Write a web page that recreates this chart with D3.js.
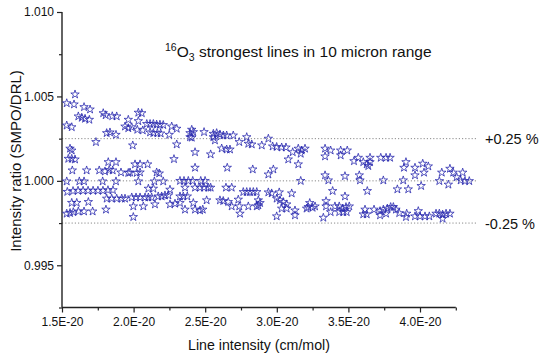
<!DOCTYPE html>
<html>
<head>
<meta charset="utf-8">
<script src="https://cdn.jsdelivr.net/npm/d3@7"></script>
<style>
  body { margin: 0; background: #fff; }
  svg text { font-family: 'Liberation Sans', Arial, sans-serif; fill: #111; }
</style>
</head>
<body>
<div id="chart"></div>
<script>
// line intensity in units of 1E-20 cm/mol, intensity ratio SMPO/DRL
const upperBand = [
  [1.591, 1.00512], [1.533, 1.0046], [1.584, 1.00453], [1.654, 1.00437], [1.696, 1.00423],
  [1.614, 1.00382], [1.638, 1.00374], [1.661, 1.00368], [1.691, 1.00362],
  [1.788, 1.00401], [1.805, 1.00389], [1.851, 1.00383], [1.882, 1.00382],
  [1.533, 1.00328], [1.568, 1.00318],
  [1.963, 1.00362], [2.033, 1.00404], [2.057, 1.00401], [2.033, 1.00354],
  [1.94, 1.00322], [1.963, 1.00312], [1.987, 1.00318], [2.026, 1.00303], [2.064, 1.00299],
  [2.092, 1.00337], [2.115, 1.00337], [2.138, 1.00337], [2.161, 1.00333], [2.184, 1.00333], [2.207, 1.00331],
  [2.115, 1.00287], [2.138, 1.00283], [2.166, 1.00283], [2.189, 1.00281],
  [2.266, 1.00322], [2.301, 1.00309],
  [1.812, 1.00283], [1.835, 1.00287], [1.877, 1.00273], [2.249, 1.00273],
  [1.737, 1.0023], [1.994, 1.0021], [2.301, 1.00216],
  [1.556, 1.00191], [1.568, 1.0018],
  [2.406, 1.00303], [2.394, 1.00283], [2.417, 1.00289], [2.394, 1.00259], [2.406, 1.00256],
  [2.492, 1.00289],
  [2.557, 1.00279], [2.58, 1.00283], [2.603, 1.00275], [2.627, 1.00269], [2.65, 1.00269], [2.696, 1.00269],
  [2.557, 1.00259], [2.568, 1.0024],
  [2.79, 1.00259], [2.738, 1.0023], [2.801, 1.0022], [2.825, 1.00216],
  [2.941, 1.0025], [2.895, 1.0021],
  [2.971, 1.00204], [2.999, 1.00201], [3.034, 1.00198], [3.064, 1.00198],
  [2.615, 1.00192], [2.65, 1.00186], [2.673, 1.00186],
  [3.111, 1.0017], [3.15, 1.00191], [3.173, 1.0018], [3.197, 1.00191], [3.167, 1.00161],
  [2.429, 1.0017], [2.538, 1.00157],
  [3.337, 1.00191], [3.376, 1.0018], [3.337, 1.00145], [3.446, 1.0018], [3.492, 1.0018], [3.446, 1.00151]
]

const middleBand = [
  [1.544, 1.00131], [1.568, 1.00131], [1.591, 1.00127],
  [1.823, 1.00111], [1.877, 1.00111],
  [2.01, 1.00098], [2.045, 1.00098], [2.098, 1.00098], [2.282, 1.00129],
  [1.572, 1.00062], [1.672, 1.00062], [1.76, 1.00062], [1.8, 1.00056], [1.83, 1.00065], [1.854, 1.00062],
  [1.912, 1.0005], [1.963, 1.00047], [1.975, 1.0005], [2.022, 1.00047], [2.045, 1.0005],
  [2.161, 1.0005], [2.179, 1.00044],
  [1.533, 0.99997], [1.621, 0.99997], [1.654, 0.99997], [1.784, 0.99997], [1.877, 0.99997],
  [2.033, 0.99997], [2.145, 0.99997], [2.207, 0.99997],
  [1.537, 0.99935], [1.577, 0.9994], [1.612, 0.99942], [1.647, 0.99942], [1.682, 0.99942],
  [1.717, 0.99942], [1.751, 0.99942], [1.786, 0.99942], [1.821, 0.99945], [1.856, 0.99945],
  [2.103, 0.99954], [2.138, 0.99954], [2.254, 0.99948],
  [3.08, 1.00127], [3.15, 1.00098], [2.429, 1.00078], [2.654, 1.00078], [2.832, 1.00068],
  [2.976, 1.00068], [2.941, 1.00038],
  [2.324, 1.0], [2.352, 1.0], [2.382, 1.0], [2.413, 1.0], [2.469, 1.0], [2.499, 1.0], [3.167, 1.0],
  [2.359, 0.9996], [2.429, 0.9996], [2.464, 0.9996], [2.492, 0.9996], [2.522, 0.9996],
  [2.538, 0.9996], [2.645, 0.9996], [2.685, 0.9996],
  [2.766, 0.99934], [2.79, 0.99934], [2.813, 0.99934], [2.836, 0.99934], [2.86, 0.99934],
  [2.941, 0.99932], [2.964, 0.99926], [3.017, 0.99932], [3.104, 0.99926],
  [3.539, 1.00117], [3.569, 1.00137], [3.604, 1.00111], [3.628, 1.00098], [3.651, 1.00111],
  [3.651, 1.00137], [3.639, 1.00088],
  [3.726, 1.00137], [3.763, 1.00137], [3.791, 1.00137],
  [3.902, 1.00111], [3.888, 1.00078], [3.965, 1.00078],
  [3.337, 1.00033], [3.36, 1.00003], [3.476, 1.00028], [3.576, 1.00033], [3.581, 1.00003],
  [3.744, 1.00003], [3.883, 1.00003],
  [3.39, 0.9994], [3.632, 0.9994], [3.842, 0.9995], [3.918, 0.9995], [4.008, 0.9997],
  [4.019, 1.00102], [4.058, 1.00086], [3.965, 1.00033], [4.028, 1.00049], [4.152, 1.00049],
  [4.209, 1.00072], [4.232, 1.00049], [4.256, 1.00022], [4.298, 1.00049], [4.284, 1.00003],
  [4.314, 0.99999], [4.344, 0.99999], [4.135, 0.99999], [4.198, 0.99978]
]

const lowerBand = [
  [1.812, 0.99895], [1.847, 0.99895], [1.882, 0.99895], [1.917, 0.99895], [1.94, 0.99895],
  [1.987, 0.99902], [2.017, 0.99902], [2.045, 0.99902], [2.08, 0.99902], [2.103, 0.99902],
  [2.126, 0.99902], [2.172, 0.99908], [2.196, 0.99908], [2.219, 0.99914], [2.243, 0.99914],
  [2.324, 0.99908], [2.347, 0.99908], [2.375, 0.99908],
  [1.568, 0.9987], [1.603, 0.9987], [1.684, 0.99875],
  [1.998, 0.99849], [2.068, 0.99849], [2.149, 0.99861], [2.254, 0.99861], [2.289, 0.99865], [2.324, 0.99869],
  [1.533, 0.99806], [1.556, 0.9981], [1.579, 0.99815], [1.614, 0.99819], [1.654, 0.99819], [1.714, 0.99819],
  [1.807, 0.9983], [1.998, 0.99786],
  [2.417, 0.99869], [2.51, 0.99885], [2.603, 0.99885], [2.626, 0.99881], [2.661, 0.99875],
  [2.731, 0.99889], [2.871, 0.99885], [2.883, 0.99869],
  [2.999, 0.99895], [3.022, 0.99885], [3.045, 0.99875], [3.069, 0.99861],
  [2.359, 0.9983], [2.429, 0.9983], [2.483, 0.9983], [2.464, 0.99825],
  [2.685, 0.99849], [2.738, 0.99849], [2.801, 0.99849], [2.86, 0.99849], [2.871, 0.99855],
  [2.743, 0.99806], [2.999, 0.9979], [3.034, 0.99836], [3.069, 0.99836], [3.127, 0.99825], [3.127, 0.99796],
  [3.476, 0.99908],
  [3.23, 0.99869], [3.219, 0.99845], [3.25, 0.99841], [3.267, 0.99849], [3.208, 0.99836],
  [3.344, 0.9988], [3.344, 0.99849], [3.376, 0.99815], [3.325, 0.99782],
  [3.406, 0.99849], [3.436, 0.99849], [3.46, 0.99836], [3.483, 0.99845], [3.506, 0.99849],
  [3.436, 0.99815], [3.464, 0.99815], [3.488, 0.99815],
  [3.616, 0.9983], [3.604, 0.99802], [3.628, 0.99802],
  [3.679, 0.9983], [3.721, 0.99821], [3.744, 0.9983], [3.772, 0.99836], [3.795, 0.99845],
  [3.814, 0.99845], [3.832, 0.9983], [3.855, 0.99809],
  [3.721, 0.99796], [3.763, 0.99806], [3.907, 0.99806], [3.902, 0.99786], [3.988, 0.99821],
  [3.965, 0.9979], [4.0, 0.9979], [4.035, 0.9979], [4.065, 0.9979],
  [4.112, 0.99806], [4.135, 0.99806], [4.158, 0.998], [4.182, 0.99806], [4.209, 0.99806], [4.158, 0.99776]
]

const xTicks = [1.5, 2.0, 2.5, 3.0, 3.5, 4.0]
const xMinorTicks = [1.75, 2.25, 2.75, 3.25, 3.75, 4.25]
const yTicks = [0.995, 1.0, 1.005, 1.01]
const yMinorTicks = [0.9925, 0.9975, 1.0025, 1.0075]
const refLines = [
  { value: 1.0025, label: '+0.25 %' },
  { value: 1.0, label: null },
  { value: 0.9975, label: '-0.25 %' }
]

const width = 550
const height = 362

const svg = d3.select('#chart')
  .append('svg')
  .attr('width', width)
  .attr('height', height)

const x = d3.scaleLinear().domain([1.5, 4.25]).range([62, 455.8])
const y = d3.scaleLinear().domain([0.9925, 1.01]).range([307.5, 12])

// reference lines
const refG = svg.append('g')
refG.selectAll('line')
  .data(refLines)
  .enter()
  .append('line')
  .attr('x1', x(1.5))
  .attr('x2', 478)
  .attr('y1', (d) => y(d.value))
  .attr('y2', (d) => y(d.value))
  .attr('stroke', '#8a8a8a')
  .attr('stroke-width', 1)
  .attr('stroke-dasharray', '1.2,2')
refG.selectAll('text')
  .data(refLines.filter((d) => d.label))
  .enter()
  .append('text')
  .attr('x', 485)
  .attr('y', (d) => y(d.value) + 5.5)
  .attr('font-size', 14.5)
  .text((d) => d.label)

// axes
const axisColor = '#222'
const xAxis = svg.append('g')
  .attr('transform', `translate(0,${y(0.9925)})`)
  .call(d3.axisBottom(x).tickValues(xTicks).tickSize(5).tickPadding(5).tickFormat((d) => d.toFixed(1) + 'E-20'))
const xMinor = svg.append('g')
  .attr('transform', `translate(0,${y(0.9925)})`)
  .call(d3.axisBottom(x).tickValues(xMinorTicks).tickSize(3).tickFormat(''))
const yAxis = svg.append('g')
  .attr('transform', `translate(${x(1.5)},0)`)
  .call(d3.axisLeft(y).tickValues(yTicks).tickSize(5).tickPadding(3).tickFormat(d3.format('.3f')))
const yMinor = svg.append('g')
  .attr('transform', `translate(${x(1.5)},0)`)
  .call(d3.axisLeft(y).tickValues(yMinorTicks).tickSize(3).tickFormat(''))

;[xAxis, xMinor, yAxis, yMinor].forEach((g) => {
  g.select('.domain').attr('stroke', axisColor).attr('stroke-width', 1.4)
  g.selectAll('.tick line').attr('stroke', axisColor).attr('stroke-width', 1.2)
  g.selectAll('.tick text')
    .attr('font-family', "'Liberation Sans', Arial, sans-serif")
    .attr('font-size', 12)
    .attr('fill', '#111')
})
// x axis line stops at the last minor tick, y axis without end caps
xAxis.select('.domain').attr('d', `M${x(1.5)},0H${x(4.25)}`)
xMinor.select('.domain').remove()
yAxis.select('.domain').attr('d', `M0,${y(1.01)}V${y(0.9925)}`)
yMinor.select('.domain').remove()

// axis titles
svg.append('text')
  .attr('x', 259)
  .attr('y', 350)
  .attr('text-anchor', 'middle')
  .attr('font-size', 14.2)
  .text('Line intensity (cm/mol)')
svg.append('text')
  .attr('transform', 'translate(21,161) rotate(-90)')
  .attr('text-anchor', 'middle')
  .attr('font-size', 15)
  .text('Intensity ratio (SMPO/DRL)')

// chart title with isotope superscript and subscript
const title = svg.append('text')
  .attr('x', 165)
  .attr('y', 57)
  .attr('font-size', 15.5)
title.append('tspan').attr('dy', -6.5).attr('font-size', 10.5).text('16')
title.append('tspan').attr('dy', 6.5).text('O')
title.append('tspan').attr('dy', 4).attr('font-size', 10.5).text('3')
title.append('tspan').attr('dy', -4).text(' strongest lines in 10 micron range')

// star markers
const star = d3.symbol().type(d3.symbolStar).size(22)
svg.append('g')
  .selectAll('path')
  .data([...upperBand, ...middleBand, ...lowerBand])
  .enter()
  .append('path')
  .attr('transform', (d) => `translate(${x(d[0])},${y(d[1])})`)
  .attr('d', star)
  .attr('fill', 'none')
  .attr('stroke', '#2a2aae')
  .attr('stroke-width', 0.8)
</script>
</body>
</html>
